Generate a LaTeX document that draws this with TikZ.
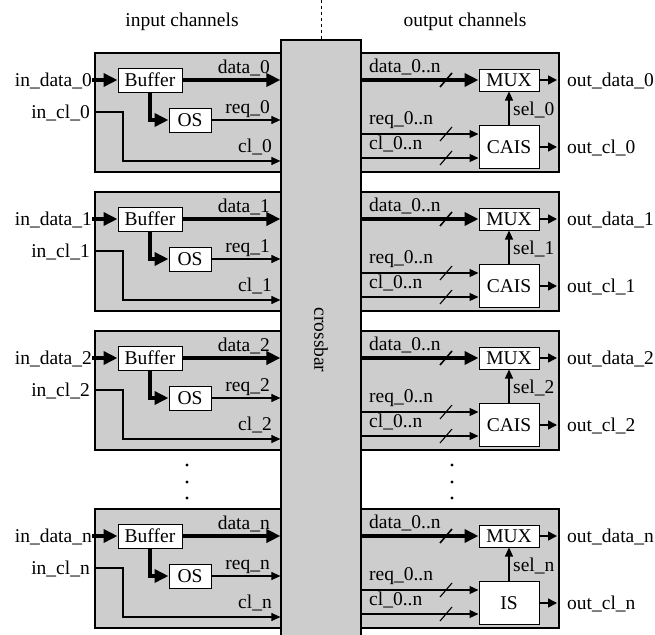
\documentclass[tikz,border=0pt]{standalone}
\usepackage{fontspec}
\setmainfont{Liberation Serif}
\usetikzlibrary{arrows.meta}
\definecolor{panel}{RGB}{205,205,205}
\tikzset{
  box/.style={draw, fill=white, line width=1pt, inner sep=0pt, font=\fontsize{19.5}{22}\selectfont},
  lbl/.style={inner sep=0pt, font=\fontsize{19.5}{22}\selectfont},
  thickarr/.style={line width=3.5pt, -{Triangle[length=14pt,width=13pt]}},
  thinarr/.style={line width=1.1pt, -{Triangle[length=9pt,width=8pt]}},
  midarr/.style={line width=1.5pt, -{Triangle[length=9pt,width=9pt]}},
  panelbox/.style={draw, fill=panel, line width=1.2pt},
  slashmark/.style={line width=1.1pt},
  dotmark/.style={fill=black},
}
\begin{document}
\begin{tikzpicture}[x=1pt,y=-1pt]
\useasboundingbox (0,0) rectangle (655,634);
\clip (0,0) rectangle (655,634);
% titles
\node[lbl, anchor=base] (inch) at (182,27) {input channels};
\node[lbl, anchor=base] (outch) at (465,27) {output channels};
% panels
\foreach \o in {0,139,278,456} {
  \draw[panelbox] (95,\o+53) rectangle (281,\o+172);
  \draw[panelbox] (361,\o+53) rectangle (559,\o+172);
}
% crossbar
\node[draw, fill=panel, line width=1.2pt, minimum width=80pt, minimum height=600pt, inner sep=0pt] (xbar) at (321,340) {};
\node[lbl, rotate=-90] (xlbl) at (xbar.center) {crossbar};
\coordinate (dtop) at (321,0);
\draw[dashed, line width=1pt] (xbar.north) -- (dtop);
% channel contents
\foreach \o/\k/\lab in {0/0/CAIS, 139/1/CAIS, 278/2/CAIS, 456/n/IS} {
  % input side
  \node[box, minimum width=64pt, minimum height=24pt] (buf\k) at (150,\o+80) {Buffer};
  \node[box, minimum width=42pt, minimum height=24pt] (os\k) at (190,\o+120) {OS};
  \node[lbl, anchor=base east] (ind\k) at (92,\o+86) {in\_data\_\k};
  \node[lbl, anchor=base east] (incl\k) at (90,\o+118) {in\_cl\_\k};
  \coordinate (indst\k) at (92,\o+80);
  \coordinate (inclst\k) at (95,\o+112);
  \coordinate (inclc1\k) at (123,\o+112);
  \coordinate (inclc2\k) at (123,\o+161);
  \draw[thickarr] (indst\k) -- (buf\k.west);
  \draw[thickarr] (buf\k.east) -- (buf\k.east -| xbar.west);
  \draw[thickarr] (buf\k.south) |- (os\k.west);
  \draw[thinarr] (os\k.east) -- (os\k.east -| xbar.west);
  \draw[thinarr] (inclst\k) -- (inclc1\k) -- (inclc2\k) -- (inclc2\k -| xbar.west);
  \node[lbl, anchor=base east] (ldata\k) at (270,\o+73) {data\_\k};
  \node[lbl, anchor=base east] (lreq\k) at (270,\o+113) {req\_\k};
  \node[lbl, anchor=base east] (lcl\k) at (272,\o+152) {cl\_\k};
  % output side
  \node[box, minimum width=60pt, minimum height=22pt] (mux\k) at (509,\o+80) {MUX};
  \node[box, minimum width=60pt, minimum height=43pt] (cais\k) at (509,\o+147) {\lab};
  \coordinate (reqin\k) at (361,\o+134);
  \coordinate (clin\k) at (361,\o+158);
  \coordinate (od\k) at (557,\o+80);
  \coordinate (oc\k) at (557,\o+147);
  \draw[thickarr] (xbar.east |- mux\k.west) -- (mux\k.west);
  \draw[thinarr] (reqin\k) -- (reqin\k -| cais\k.west);
  \draw[thinarr] (clin\k) -- (clin\k -| cais\k.west);
  \draw[thinarr] (cais\k.north) -- (mux\k.south);
  \draw[midarr] (mux\k.east) -- (od\k);
  \draw[midarr] (cais\k.east) -- (oc\k);
  \draw[slashmark, line width=1.6pt] (440,\o+87) -- (452,\o+73);
  \draw[slashmark] (440,\o+141) -- (452,\o+127);
  \draw[slashmark] (440,\o+165) -- (452,\o+151);
  \node[lbl, anchor=base west] (ldn\k) at (369,\o+72) {data\_0..n};
  \node[lbl, anchor=base west] (lrn\k) at (369,\o+124) {req\_0..n};
  \node[lbl, anchor=base west] (lcn\k) at (369,\o+149) {cl\_0..n};
  \node[lbl, anchor=base west] (lsel\k) at (513,\o+115) {sel\_\k};
  \node[lbl, anchor=base west] (lod\k) at (567,\o+86) {out\_data\_\k};
  \node[lbl, anchor=base west] (loc\k) at (567,\o+153) {out\_cl\_\k};
}
% vertical ellipses
\foreach \y in {465,482,498} {
  \fill[dotmark] (187,\y) circle (1.7pt);
  \fill[dotmark] (452,\y) circle (1.7pt);
}
\end{tikzpicture}
\end{document}
